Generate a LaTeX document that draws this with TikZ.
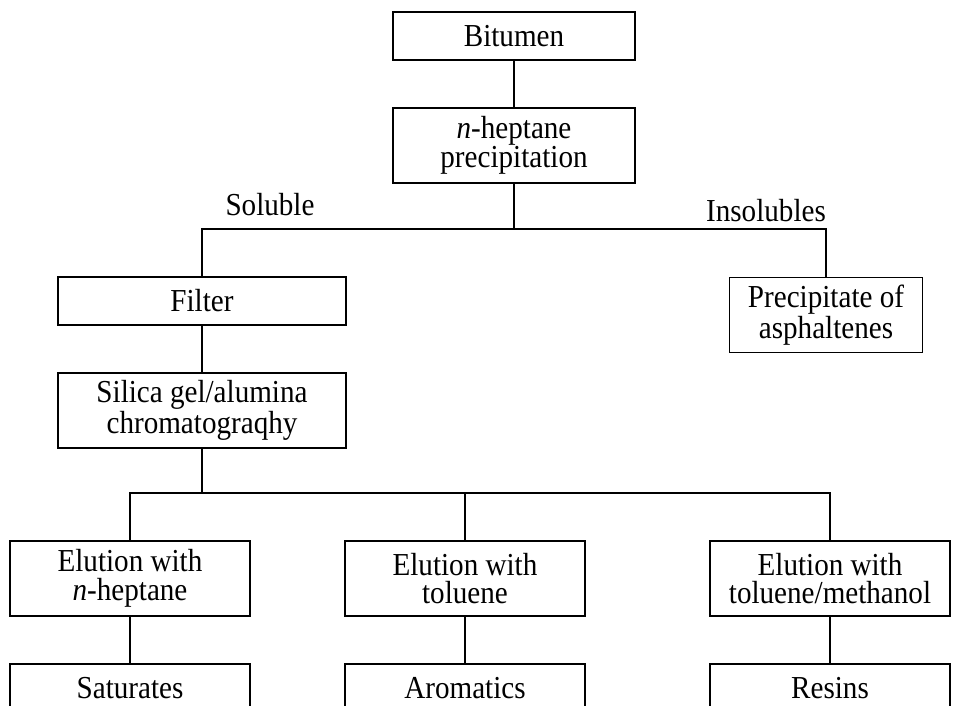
\documentclass[tikz,border=0pt]{standalone}
\usepackage{fontspec}
\setmainfont{Liberation Serif}[FakeStretch=0.91]
\usepackage{tikz}

\begin{document}
\begin{tikzpicture}[x=0.75pt,y=-0.75pt,line width=1.1pt,font=\fontsize{24}{21.5}\selectfont]
		\tikzstyle{box}=[draw,rectangle,align=center,inner sep=0pt,minimum height=36pt]
		\tikzstyle{tall}=[minimum height=56.25pt]
		\tikzstyle{elution}=[box,tall,minimum width=180pt]
		\tikzstyle{result}=[box,minimum width=180pt]
		
		\useasboundingbox (0,0) rectangle (957,706);
		
		\node[box,minimum width=181.5pt] (bit) at (514,36) {Bitumen};
		\node[box,tall,minimum width=181.5pt] (prec) [below of=bit, node distance=82pt] {\textit{n}-heptane\\precipitation};
		\node[box,minimum width=216pt] (filt) at (202,301) {Filter};
		\node[box,tall,minimum width=144.75pt] (asph) at (826,315) {Precipitate of\\asphaltenes};
		\node[box,tall,minimum width=216pt] (sil) [below of=filt, node distance=82pt] {Silica gel/alumina\\chromatograqhy};
		
		\node[elution] (elu_1) at (130,578.5) {Elution with\\\textit{n}-heptane};
		\node[elution] (elu_2) [right of=elu_1, node distance=251.25pt] {Elution with\\toluene};
		\node[elution] (elu_3) [right of=elu_2, node distance=273.75pt] {Elution with\\toluene/methanol};
		
		\node[result] (sat) [below of=elu_1, node distance=82pt] {Saturates};
		\node[result] (aro) [below of=elu_2, node distance=82pt] {Aromatics};
		\node[result] (res) [below of=elu_3, node distance=82pt] {Resins};
		
		\node (sol) at (270,205) {Soluble};
		\node (insol) at (766,211) {Insolubles};
		
		\coordinate (split_1) at (514,229);
		\coordinate (split_2) at (202,493);
		
		\draw (bit) -- (prec);
		\draw (prec) -- (split_1);
		\draw (split_1) -| (filt);
		\draw (split_1) -| (asph);
		\draw (filt) -- (sil);
		\draw (sil) -- (split_2);
		\draw (split_2) -| (elu_1);
		\draw (split_2) -| (elu_2);
		\draw (split_2) -| (elu_3);
		\draw (elu_1) -- (sat);
		\draw (elu_2) -- (aro);
		\draw (elu_3) -- (res);

\end{tikzpicture}
\end{document}
